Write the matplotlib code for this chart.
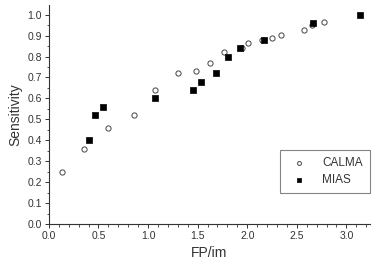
import matplotlib
matplotlib.use("Agg")
import matplotlib.pyplot as plt
from matplotlib.ticker import MultipleLocator

plt.rcParams['font.family'] = ['Liberation Sans', 'DejaVu Sans']

calma_x = [0.13, 0.35, 0.60, 0.86, 1.07, 1.30, 1.48, 1.62, 1.77, 1.95, 2.01, 2.15, 2.25, 2.34, 2.57, 2.65, 2.77]
calma_y = [0.25, 0.36, 0.46, 0.52, 0.64, 0.72, 0.73, 0.77, 0.82, 0.84, 0.865, 0.88, 0.89, 0.905, 0.925, 0.95, 0.965]
mias_x = [0.40, 0.47, 0.55, 1.07, 1.45, 1.53, 1.69, 1.81, 1.93, 2.17, 2.66, 3.14]
mias_y = [0.40, 0.52, 0.56, 0.60, 0.64, 0.68, 0.72, 0.80, 0.84, 0.88, 0.96, 1.00]

fig = plt.figure(figsize=(3.82, 2.66), dpi=100)
ax = fig.add_axes([0.128, 0.158, 0.841, 0.823])
ax.scatter(calma_x, calma_y, marker='o', s=14, facecolors='white', edgecolors='#444444', linewidths=0.7, label='CALMA', zorder=3)
ax.scatter(mias_x, mias_y, marker='s', s=16, facecolors='black', edgecolors='black', linewidths=0.5, label='MIAS', zorder=3)

ax.set_xlim(0, 3.24)
ax.set_ylim(0, 1.046)
ax.xaxis.set_major_locator(MultipleLocator(0.5))
ax.xaxis.set_minor_locator(MultipleLocator(0.1))
ax.yaxis.set_major_locator(MultipleLocator(0.1))
ax.yaxis.set_minor_locator(MultipleLocator(0.05))
ax.xaxis.set_major_formatter(matplotlib.ticker.FormatStrFormatter('%.1f'))
ax.yaxis.set_major_formatter(matplotlib.ticker.FormatStrFormatter('%.1f'))
for s in ['top', 'right']:
    ax.spines[s].set_visible(False)
for s in ['left', 'bottom']:
    ax.spines[s].set_color('#333333')
    ax.spines[s].set_linewidth(0.8)
ax.tick_params(which='major', direction='out', length=3, width=0.7, labelsize=7.5, colors='#333333', labelcolor='#333333', pad=2)
ax.tick_params(which='minor', direction='out', length=1.8, width=0.6, colors='#333333')
ax.set_xlabel('FP/im', fontsize=10, color='#333333', labelpad=4)
ax.set_ylabel('Sensitivity', fontsize=10, color='#333333', labelpad=4)

leg = ax.legend(loc='lower right', bbox_to_anchor=(1.0, 0.14), borderaxespad=0, fontsize=8.5, frameon=True, fancybox=False,
                edgecolor='#666666', handletextpad=1.0, borderpad=0.6, labelspacing=0.45, markerscale=0.75)
leg.get_frame().set_linewidth(0.8)
for t in leg.get_texts():
    t.set_color('#333333')

fig.savefig('out.png', dpi=100)
